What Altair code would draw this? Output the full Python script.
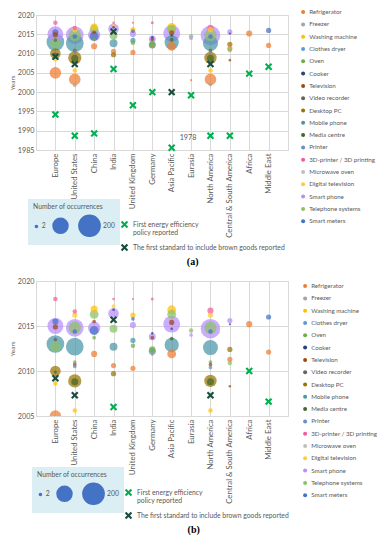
import altair as alt
import pandas as pd

regions = ["Europe", "United States", "China", "India", "United Kingdom", "Germany",
           "Asia Pacific", "Eurasia", "North America", "Central & South America",
           "Africa", "Middle East"]

appliances = ["Refrigerator", "Freezer", "Washing machine", "Clothes dryer", "Oven", "Cooker",
              "Television", "Video recorder", "Desktop PC", "Mobile phone", "Media centre",
              "Printer", "3D-printer / 3D printing", "Microwave oven", "Digital television",
              "Smart phone", "Telephone systems", "Smart meters"]
appliance_colors = ["#ED7D31", "#A5A5A5", "#FFC000", "#5B9BD5", "#70AD47", "#264478",
                    "#9E480E", "#636363", "#997300", "#4A96A8", "#43682B", "#698ED0",
                    "#F45B9B", "#BFBFBF", "#FFCD33", "#B98CFF", "#8CC168", "#4472C4"]

# Bubbles: region, appliance, year, number of occurrences
b_region = (["Europe"] * 11 + ["United States"] * 14 + ["China"] * 7 + ["India"] * 8 +
            ["United Kingdom"] * 7 + ["Germany"] * 7 + ["Asia Pacific"] * 8 + ["Eurasia"] * 3 +
            ["North America"] * 14 + ["Central & South America"] * 6 + ["Africa"] * 1 +
            ["Middle East"] * 2)
b_appliance = [
    # Europe
    "3D-printer / 3D printing", "Smart phone", "Smart meters", "Television", "Mobile phone",
    "Video recorder", "Telephone systems", "Desktop PC", "Media centre", "Washing machine", "Refrigerator",
    # United States
    "3D-printer / 3D printing", "Digital television", "Smart phone", "Telephone systems", "Smart meters",
    "Mobile phone", "Oven", "Television", "Printer", "Desktop PC", "Media centre", "Washing machine",
    "Refrigerator", "Freezer",
    # China
    "Washing machine", "Telephone systems", "Television", "Smart phone", "Smart meters", "Oven",
    "Refrigerator",
    # India
    "3D-printer / 3D printing", "Digital television", "Cooker", "Smart phone", "Telephone systems",
    "Mobile phone", "Refrigerator", "Desktop PC",
    # United Kingdom
    "3D-printer / 3D printing", "Washing machine", "Smart meters", "Smart phone", "Mobile phone",
    "Oven", "Refrigerator",
    # Germany
    "3D-printer / 3D printing", "Cooker", "Smart phone", "Television", "Oven", "Mobile phone",
    "Refrigerator",
    # Asia Pacific
    "Washing machine", "Telephone systems", "Smart phone", "Television", "Cooker", "Media centre",
    "Mobile phone", "Refrigerator",
    # Eurasia
    "Telephone systems", "Smart phone", "Refrigerator",
    # North America
    "3D-printer / 3D printing", "Digital television", "Smart phone", "Telephone systems", "Smart meters",
    "Mobile phone", "Oven", "Television", "Printer", "Desktop PC", "Media centre", "Washing machine",
    "Refrigerator", "Freezer",
    # Central & South America
    "Smart phone", "Cooker", "Desktop PC", "Refrigerator", "Telephone systems", "Television",
    # Africa
    "Refrigerator",
    # Middle East
    "Smart meters", "Refrigerator",
]
b_year = [
    2018.0, 2015.0, 2015.5, 2014.9, 2013.0, 2013.5, 2012.7, 2010.0, 2009.9, 2008.6, 2005.0,
    2016.6, 2016.2, 2014.8, 2014.8, 2014.4, 2012.7, 2011.0, 2010.7, 2010.5, 2008.9, 2008.8, 2005.6, 2003.3, 2001.8,
    2016.9, 2016.3, 2015.5, 2014.8, 2014.5, 2013.7, 2011.9,
    2018.0, 2017.2, 2016.8, 2016.4, 2014.7, 2012.7, 2010.6, 2009.7,
    2018.0, 2016.2, 2015.8, 2015.1, 2013.4, 2012.8, 2010.3,
    2018.0, 2014.2, 2013.8, 2013.7, 2012.4, 2012.2, 2011.8,
    2016.8, 2016.3, 2015.2, 2015.4, 2014.7, 2013.6, 2012.9, 2011.9,
    2014.5, 2014.0, 2003.1,
    2016.7, 2016.2, 2014.7, 2014.8, 2014.4, 2012.6, 2011.0, 2010.7, 2010.4, 2008.9, 2008.8, 2005.6, 2003.3, 2002.0,
    2015.6, 2015.2, 2012.4, 2011.3, 2010.9, 2008.3,
    2015.2,
    2016.0, 2012.1,
]
b_count = [
    9, 113, 17, 12, 140, 6, 50, 50, 4, 9, 60,
    9, 12, 140, 68, 9, 140, 6, 6, 6, 78, 22, 9, 60, 6,
    22, 35, 6, 68, 35, 6, 17,
    3, 6, 3, 50, 28, 28, 12, 12,
    2, 12, 6, 17, 12, 9, 12,
    4, 3, 22, 6, 17, 22, 3,
    35, 35, 126, 12, 3, 6, 90, 35,
    9, 6, 2,
    17, 12, 170, 68, 9, 100, 6, 6, 6, 68, 22, 9, 60, 6,
    12, 2, 12, 12, 9, 3,
    17,
    12, 12,
]

# Policy markers
marker_types = ["First energy efficiency policy reported",
                "The first standard to include brown goods reported"]
marker_colors = ["#00B050", "#1B4D3E"]
first_policy_a = [1994.2, 1988.7, 1989.3, 2006.0, 1996.6, 2000.0, 1978, 1999.2, 1988.7, 1988.7, 2004.8, 2006.6]
first_policy_b = [1994.2, 1988.7, 1989.3, 2006.0, 1996.6, 2000.0, 1978, 1999.2, 1988.7, 1988.7, 2010.0, 2006.6]
brown_regions = ["Europe", "United States", "India", "Asia Pacific", "North America"]
brown_year = [2009.2, 2007.3, 2015.7, 2000.0, 2007.3]

XPATH = "M-1,-0.6L-0.6,-1L0,-0.4L0.6,-1L1,-0.6L0.4,0L1,0.6L0.6,1L0,0.4L-0.6,1L-1,0.6L-0.4,0Z"
GREY = "#595959"
FONT = "Lato"

bubbles = pd.DataFrame({"region": b_region, "appliance": b_appliance,
                        "year": b_year, "count": b_count})


def markers(first_policy):
    return pd.DataFrame({
        "region": regions + brown_regions,
        "year": first_policy + brown_year,
        "type": [marker_types[0]] * len(regions) + [marker_types[1]] * len(brown_regions),
    })


def panel(label, ymin, ymax, first_policy, lx, ly, sx, sy, mx, my, floor):
    clip = floor is None
    x = alt.X("region:N", sort=regions,
              scale=alt.Scale(domain=regions, padding=1),
              axis=alt.Axis(title=None, labelAngle=-90, grid=True, ticks=False, domain=False,
                            labelPadding=3, labelFontSize=7.8, labelColor=GREY, labelLimit=120))
    yaxis = alt.Axis(title="Years", values=list(range(ymin, ymax + 1, 5)), format="d",
                     grid=True, ticks=False, domain=False, labelFontSize=7.2,
                     labelColor=GREY, titleFontSize=6.5, titleFontWeight="normal",
                     titleColor=GREY, titlePadding=2, labelPadding=2)
    yscale = alt.Scale(domain=[ymin, ymax], nice=False, zero=False)

    bub = alt.Chart(bubbles).mark_circle(opacity=0.72, clip=clip).encode(
        x=x,
        y=alt.Y("year:Q", scale=yscale, axis=yaxis),
        size=alt.Size("count:Q", scale=alt.Scale(domain=[0, 200], range=[0, 450]),
                      legend=alt.Legend(
                          title="Number of occurrences", orient="none",
                          legendX=sx, legendY=sy, direction="horizontal",
                          values=[2, 100, 200], fillColor="#DAEEF3", padding=5,
                          symbolFillColor="#4472C4", symbolStrokeColor="#4472C4",
                          symbolOpacity=1, titleFontSize=6.8, titleColor=GREY,
                          titleFontWeight="normal", labelFontSize=6.8, labelColor=GREY,
                          columnPadding=4, titlePadding=3, labelOffset=2,
                          labelExpr="datum.value == 100 ? '' : datum.label")),
        color=alt.Color("appliance:N", scale=alt.Scale(domain=appliances, range=appliance_colors),
                        legend=alt.Legend(title=None, orient="none", legendX=lx, legendY=ly,
                                          padding=0, symbolType="circle", symbolSize=16,
                                          symbolOpacity=1, labelFontSize=6.2, labelColor=GREY,
                                          rowPadding=5.3, labelOffset=3, labelLimit=200)),
        order=alt.Order("count:Q", sort="descending"),
    )

    ycalc = f"max(datum.year, {floor})" if floor is not None else "datum.year"
    mk = alt.Chart(markers(first_policy)).transform_calculate(
        yplot=ycalc
    ).mark_point(shape=XPATH, filled=True, size=55, opacity=1, clip=clip).encode(
        x=x,
        y=alt.Y("yplot:Q", scale=yscale, axis=yaxis),
        color=alt.Color("type:N", scale=alt.Scale(domain=marker_types, range=marker_colors),
                        legend=alt.Legend(title=None, orient="none", legendX=mx, legendY=my,
                                          padding=0, symbolType=XPATH, symbolSize=55,
                                          symbolOpacity=1, labelFontSize=6.8, labelColor=GREY,
                                          rowPadding=5, labelLimit=260,
                                          labelExpr=("datum.value == '" + marker_types[0] +
                                                     "' ? ['First energy efficiency', 'policy reported'] : datum.label"))),
    )
    layers = [bub, mk]

    if floor is not None:
        lab = alt.Chart(markers(first_policy)).transform_filter(
            f"datum.year < {floor}"
        ).transform_calculate(
            yplot=f"{floor}", txt="format(datum.year, 'd')"
        ).mark_text(dx=8, dy=-10, align="left", fontSize=7.2, color=GREY).encode(
            x=x, y=alt.Y("yplot:Q", scale=yscale, axis=yaxis), text="txt:N")
        layers.append(lab)

    return alt.layer(*layers).resolve_scale(color="independent").properties(
        width=252, height=135,
        title=alt.TitleParams(label, orient="bottom", anchor="middle", frame="bounds",
                              font="Liberation Serif", fontSize=10, fontWeight="bold",
                              color="#000000", offset=5))


pa = panel("(a)", 1985, 2020, first_policy_a, 264, -6, -8, 184, 84, 205, 1985.6)
pb = panel("(b)", 2005, 2020, first_policy_b, 266, 2, -4, 186, 88, 207, None)

chart = alt.vconcat(pa, pb, spacing=8).resolve_scale(
    color="independent", size="independent"
).properties(
    padding={"left": 0, "top": 0, "right": 0, "bottom": 0}
).configure(font=FONT).configure_view(stroke="#D9D9D9").configure_axis(gridColor="#D9D9D9")

chart.save("out.html", embed_options={"renderer": "svg", "actions": False})
